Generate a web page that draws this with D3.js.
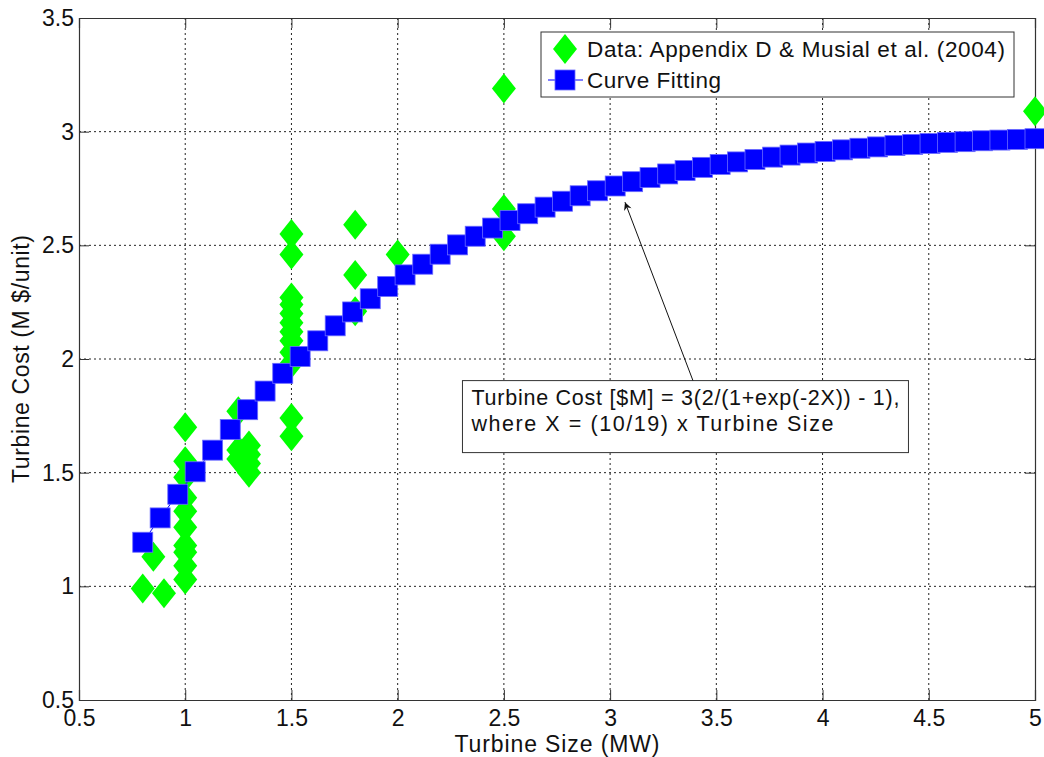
<!DOCTYPE html>
<html>
<head>
<meta charset="utf-8">
<script src="https://cdn.jsdelivr.net/npm/d3@7"></script>
<style>
	body { margin: 0; background: #fff; }
	svg text { font-family: "Liberation Sans", Arial, sans-serif; fill: #111; }
</style>
</head>
<body>
<div id="chart"></div>
<script>
// ticks
const sizeTicks = [0.5, 1, 1.5, 2, 2.5, 3, 3.5, 4, 4.5, 5];
const costTicks = [0.5, 1, 1.5, 2, 2.5, 3, 3.5];

// measured turbine data (Appendix D & Musial et al.)
const dataSize = [
	0.8, 0.85, 0.9,
	1, 1, 1, 1, 1, 1, 1, 1, 1, 1,
	1.25, 1.25, 1.25, 1.3, 1.3, 1.3, 1.3,
	1.5, 1.5, 1.5, 1.5, 1.5, 1.5, 1.5, 1.5, 1.5, 1.5, 1.5, 1.5,
	1.8, 1.8, 1.8,
	2,
	2.5, 2.5, 2.5,
	5
];
const dataCost = [
	0.99, 1.13, 0.97,
	1.70, 1.55, 1.48, 1.39, 1.33, 1.26, 1.18, 1.15, 1.09, 1.03,
	1.77, 1.60, 1.56, 1.62, 1.58, 1.54, 1.50,
	2.55, 2.46, 2.27, 2.24, 2.20, 2.16, 2.12, 2.08, 2.03, 1.98, 1.74, 1.66,
	2.59, 2.37, 2.21,
	2.46,
	3.19, 2.66, 2.54,
	3.09
];

// fitted curve samples
const fitSize = [
	0.800, 0.882, 0.965, 1.047, 1.129, 1.212, 1.294, 1.376, 1.459, 1.541,
	1.624, 1.706, 1.788, 1.871, 1.953, 2.035, 2.118, 2.200, 2.282, 2.365,
	2.447, 2.529, 2.612, 2.694, 2.776, 2.859, 2.941, 3.024, 3.106, 3.188,
	3.271, 3.353, 3.435, 3.518, 3.600, 3.682, 3.765, 3.847, 3.929, 4.012,
	4.094, 4.176, 4.259, 4.341, 4.424, 4.506, 4.588, 4.671, 4.753, 4.835,
	4.918, 5.000
];
const fitCost = [
	1.194, 1.301, 1.405, 1.504, 1.599, 1.690, 1.777, 1.859, 1.937, 2.011,
	2.080, 2.146, 2.207, 2.265, 2.319, 2.370, 2.417, 2.461, 2.502, 2.540,
	2.576, 2.609, 2.639, 2.668, 2.694, 2.718, 2.740, 2.761, 2.780, 2.798,
	2.814, 2.829, 2.843, 2.856, 2.867, 2.878, 2.888, 2.897, 2.906, 2.913,
	2.920, 2.927, 2.933, 2.939, 2.944, 2.948, 2.953, 2.956, 2.960, 2.963,
	2.966, 2.969
];

const legendLabels = ['Data: Appendix D & Musial et al. (2004)', 'Curve Fitting'];
const legendWidths = [418, 134];
const noteLines = ['Turbine Cost [$M] = 3(2/(1+exp(-2X)) - 1),', 'where X = (10/19) x Turbine Size'];
const noteWidths = [428, 362];

let full_width  = 1044,
	full_height = 757,
	margins     = {top: 18, right: 9, bottom: 57, left: 79},
	width       = full_width - margins.left - margins.right,
	height      = full_height - margins.top - margins.bottom;

let svg = d3.select('#chart')
	.append('svg')
	.attr('width', full_width)
	.attr('height', full_height);

svg.append('rect')
	.attr('width', full_width)
	.attr('height', full_height)
	.attr('fill', '#fff');

let x = d3.scaleLinear().domain([0.5, 5]).range([0, width]);
let y = d3.scaleLinear().domain([0.5, 3.5]).range([height, 0]);

let g = svg.append('g')
	.attr('transform', 'translate(' + margins.left + ',' + margins.top + ')');

// dotted grid
g.append('g').selectAll('line').data(sizeTicks.slice(1, -1)).join('line')
	.attr('x1', d => x(d)).attr('x2', d => x(d))
	.attr('y1', 0).attr('y2', height)
	.attr('stroke', '#222').attr('stroke-width', 1)
	.attr('stroke-dasharray', '2,3');

g.append('g').selectAll('line').data(costTicks.slice(1, -1)).join('line')
	.attr('x1', 0).attr('x2', width)
	.attr('y1', d => y(d)).attr('y2', d => y(d))
	.attr('stroke', '#222').attr('stroke-width', 1)
	.attr('stroke-dasharray', '2,3');

// axes: ticks point inward on all four sides
let tickLen = 10;
let xAxisB = g.append('g').attr('transform', 'translate(0,' + height + ')')
	.call(d3.axisBottom(x).tickValues(sizeTicks).tickSize(-tickLen).tickPadding(10).tickFormat(d3.format('')));
let xAxisT = g.append('g')
	.call(d3.axisTop(x).tickValues(sizeTicks).tickSize(-tickLen).tickFormat(''));
let yAxisL = g.append('g')
	.call(d3.axisLeft(y).tickValues(costTicks).tickSize(-tickLen).tickPadding(5).tickFormat(d3.format('')));
let yAxisR = g.append('g').attr('transform', 'translate(' + width + ',0)')
	.call(d3.axisRight(y).tickValues(costTicks).tickSize(-tickLen).tickFormat(''));

[xAxisB, xAxisT, yAxisL, yAxisR].forEach(function(a) {
	a.select('.domain').attr('stroke', '#333').attr('stroke-width', 1.2);
	a.selectAll('.tick line').attr('stroke', '#333');
	a.selectAll('.tick text')
		.style('font-family', '"Liberation Sans", Arial, sans-serif')
		.style('font-size', '23px')
		.attr('fill', '#111');
});
xAxisB.selectAll('.tick text').attr('dy', '0.71em');

// diamonds
let diamond = 'M0,-15L12,0L0,15L-12,0Z';
g.append('g').selectAll('path').data(dataSize).join('path')
	.attr('d', diamond)
	.attr('transform', (d, i) => 'translate(' + x(d) + ',' + y(dataCost[i]) + ')')
	.attr('fill', '#00ff00');

// fitted curve
let line = d3.line()
	.x(d => x(d))
	.y((d, i) => y(fitCost[i]));

g.append('path')
	.datum(fitSize)
	.attr('fill', 'none')
	.attr('stroke', '#0000ff')
	.attr('stroke-width', 1)
	.attr('d', line);

g.append('g').selectAll('rect').data(fitSize).join('rect')
	.attr('x', d => x(d) - 10)
	.attr('y', (d, i) => y(fitCost[i]) - 10)
	.attr('width', 20)
	.attr('height', 20)
	.attr('fill', '#0000ff')
	.attr('stroke', '#6b6bff')
	.attr('stroke-width', 0.8);

// annotation with arrow
svg.append('defs').append('marker')
	.attr('id', 'arrowhead')
	.attr('viewBox', '0 0 10 10')
	.attr('refX', 10).attr('refY', 5)
	.attr('markerWidth', 12).attr('markerHeight', 8)
	.attr('markerUnits', 'userSpaceOnUse')
	.attr('orient', 'auto')
	.append('path')
	.attr('d', 'M0,0L10,5L0,10L3,5Z')
	.attr('fill', '#111');

let noteX = 2.305, noteY = 1.905;
let tipSize = 3.07, tipCost = 2.69, tailSize = 3.39;

let note = g.append('g');
note.append('rect')
	.attr('x', x(noteX))
	.attr('y', y(noteY))
	.attr('width', 446)
	.attr('height', 72)
	.attr('fill', '#fff')
	.attr('stroke', '#333')
	.attr('stroke-width', 1);
note.selectAll('text').data(noteLines).join('text')
	.attr('x', x(noteX) + 9)
	.attr('y', (d, i) => y(noteY) + 24 + i * 26)
	.attr('textLength', (d, i) => noteWidths[i])
	.attr('lengthAdjust', 'spacing')
	.style('font-size', '21.5px')
	.text(d => d);

note.append('line')
	.attr('x1', x(tailSize)).attr('y1', y(noteY))
	.attr('x2', x(tipSize)).attr('y2', y(tipCost))
	.attr('stroke', '#111')
	.attr('stroke-width', 1)
	.attr('marker-end', 'url(#arrowhead)');

// legend
let legend = svg.append('g').attr('transform', 'translate(541,32)');
legend.append('rect')
	.attr('width', 473).attr('height', 65)
	.attr('fill', '#fff')
	.attr('stroke', '#333').attr('stroke-width', 1);
legend.append('path')
	.attr('d', diamond)
	.attr('transform', 'translate(24,17)')
	.attr('fill', '#00ff00');
legend.append('line')
	.attr('x1', 7).attr('x2', 42)
	.attr('y1', 48).attr('y2', 48)
	.attr('stroke', '#0000ff').attr('stroke-width', 1);
legend.append('rect')
	.attr('x', 14).attr('y', 38)
	.attr('width', 20).attr('height', 20)
	.attr('fill', '#0000ff')
	.attr('stroke', '#6b6bff').attr('stroke-width', 0.8);
legend.selectAll('text.lbl').data(legendLabels).join('text')
	.attr('class', 'lbl')
	.attr('x', 46)
	.attr('y', (d, i) => 25 + i * 31)
	.attr('textLength', (d, i) => legendWidths[i])
	.attr('lengthAdjust', 'spacing')
	.style('font-size', '22.5px')
	.text(d => d);

// axis titles
svg.append('text')
	.attr('x', margins.left + width / 2)
	.attr('y', 752)
	.attr('text-anchor', 'middle')
	.attr('textLength', 205)
	.attr('lengthAdjust', 'spacing')
	.style('font-size', '23px')
	.text('Turbine Size (MW)');

svg.append('text')
	.attr('transform', 'translate(29,' + (margins.top + height / 2) + ') rotate(-90)')
	.attr('text-anchor', 'middle')
	.attr('textLength', 248)
	.attr('lengthAdjust', 'spacing')
	.style('font-size', '23px')
	.text('Turbine Cost (M $/unit)');
</script>
</body>
</html>
